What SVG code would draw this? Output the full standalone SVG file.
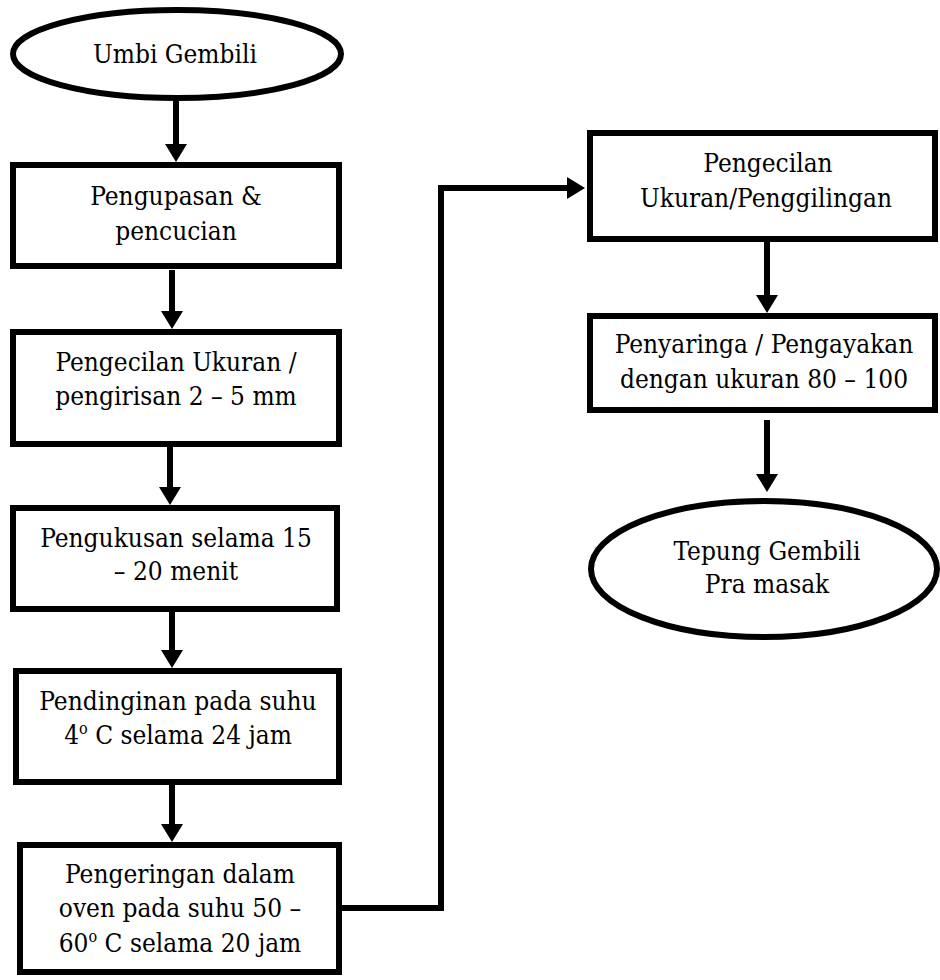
<svg xmlns="http://www.w3.org/2000/svg" width="940" height="980" viewBox="0 0 940 980">
<defs>
<style>
.n{fill:#fff;stroke:#000;stroke-width:6}
.t{font-family:'DejaVu Serif Condensed','DejaVu Serif',serif;font-stretch:condensed;font-size:26px;fill:#000;text-anchor:middle}
.c{fill:none;stroke:#000;stroke-width:6;stroke-linejoin:miter}
.sup{font-size:16px}
</style>
<marker id="ah" markerUnits="userSpaceOnUse" markerWidth="20" markerHeight="24" refX="0" refY="11" orient="auto" overflow="visible">
<path d="M0,0 L18,11 L0,22 Z" fill="#000"/>
</marker>
</defs>
<rect width="940" height="980" fill="#fff"/>
<g id="connectors">
<line class="c" x1="176" y1="100" x2="176" y2="144" marker-end="url(#ah)"/>
<line class="c" x1="172" y1="270" x2="172" y2="311" marker-end="url(#ah)"/>
<line class="c" x1="170" y1="447" x2="170" y2="487" marker-end="url(#ah)"/>
<line class="c" x1="172" y1="612" x2="172" y2="650" marker-end="url(#ah)"/>
<line class="c" x1="172" y1="785" x2="172" y2="824" marker-end="url(#ah)"/>
<polyline class="c" points="342,908 441,908 441,188 567,188" marker-end="url(#ah)"/>
<line class="c" x1="767" y1="242" x2="767" y2="295" marker-end="url(#ah)"/>
<line class="c" x1="767" y1="420" x2="767" y2="474" marker-end="url(#ah)"/>
</g>
<g id="n1">
<ellipse class="n" cx="177" cy="54" rx="164" ry="44"/>
<text class="t" x="175" y="63">Umbi Gembili</text>
</g>
<g id="n2">
<rect class="n" x="13" y="165" width="326" height="101"/>
<text class="t" x="176" y="205">Pengupasan &amp;</text>
<text class="t" x="176" y="240">pencucian</text>
</g>
<g id="n3">
<rect class="n" x="13" y="332" width="326" height="112"/>
<text class="t" x="176" y="371">Pengecilan Ukuran /</text>
<text class="t" x="176" y="405">pengirisan 2 – 5 mm</text>
</g>
<g id="n4">
<rect class="n" x="13" y="508" width="324" height="101"/>
<text class="t" x="176" y="547">Pengukusan selama 15</text>
<text class="t" x="176" y="580">– 20 menit</text>
</g>
<g id="n5">
<rect class="n" x="16" y="671" width="323" height="111"/>
<text class="t" x="178" y="710">Pendinginan pada suhu</text>
<text class="t" x="178" y="744">4<tspan class="sup" dy="-10">o</tspan><tspan dy="10"> C selama 24 jam</tspan></text>
</g>
<g id="n6">
<rect class="n" x="20" y="845" width="319" height="127"/>
<text class="t" x="180" y="883">Pengeringan dalam</text>
<text class="t" x="180" y="917">oven pada suhu 50 –</text>
<text class="t" x="180" y="952">60<tspan class="sup" dy="-10">o</tspan><tspan dy="10"> C selama 20 jam</tspan></text>
</g>
<g id="n7">
<rect class="n" x="590" y="133" width="345" height="106"/>
<text class="t" x="768" y="172">Pengecilan</text>
<text class="t" x="766" y="207">Ukuran/Penggilingan</text>
</g>
<g id="n8">
<rect class="n" x="590" y="316" width="345" height="94"/>
<text class="t" x="764" y="353">Penyaringa / Pengayakan</text>
<text class="t" x="764" y="388">dengan ukuran 80 – 100</text>
</g>
<g id="n9">
<ellipse class="n" cx="764" cy="569" rx="173" ry="68"/>
<text class="t" x="767" y="560">Tepung Gembili</text>
<text class="t" x="767" y="593">Pra masak</text>
</g>
</svg>
